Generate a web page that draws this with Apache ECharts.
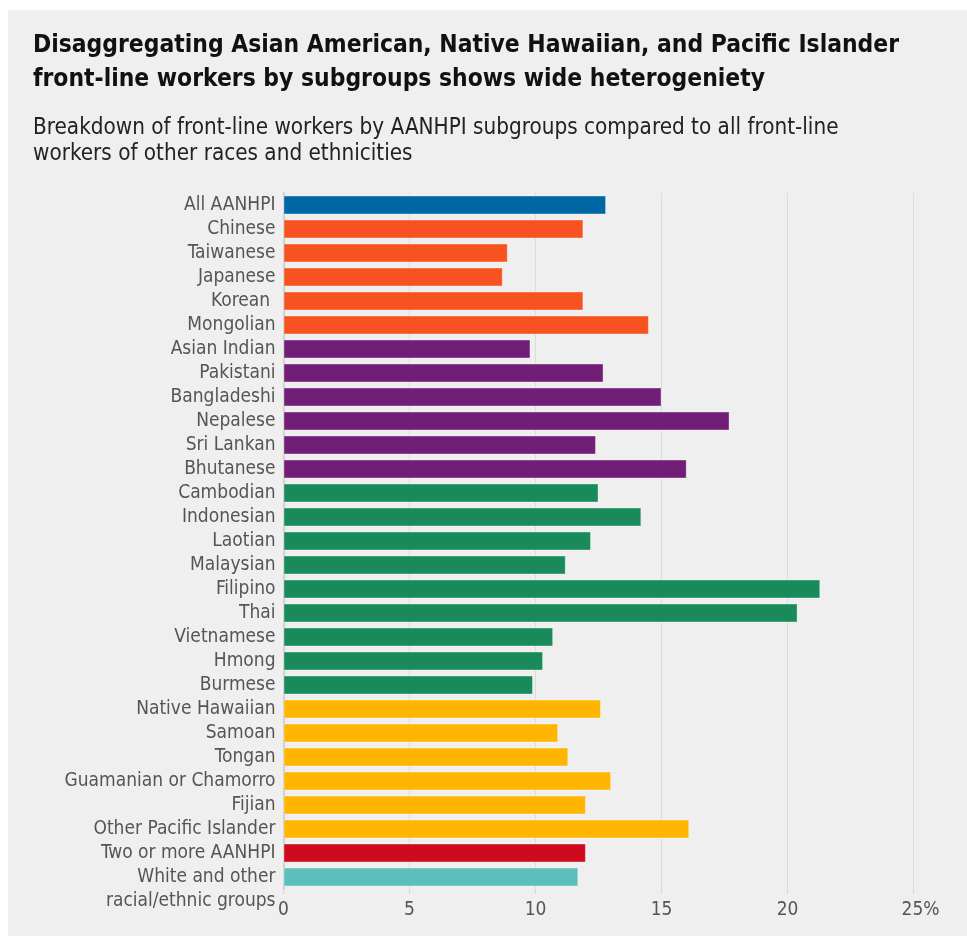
<!DOCTYPE html>
<html>
<head>
<meta charset="utf-8">
<script src="https://cdn.jsdelivr.net/npm/echarts@6/dist/echarts.min.js"></script>
<style>
  html, body { margin: 0; padding: 0; background: #ffffff; }
  #chart { width: 967px; height: 939px; }
</style>
</head>
<body>
<div id="chart"></div>
<script>
// Subgroups, top to bottom
const categories = [
  'All AANHPI', 'Chinese', 'Taiwanese', 'Japanese', 'Korean ', 'Mongolian',
  'Asian Indian', 'Pakistani', 'Bangladeshi', 'Nepalese', 'Sri Lankan', 'Bhutanese',
  'Cambodian', 'Indonesian', 'Laotian', 'Malaysian', 'Filipino', 'Thai',
  'Vietnamese', 'Hmong', 'Burmese',
  'Native Hawaiian', 'Samoan', 'Tongan', 'Guamanian or Chamorro', 'Fijian',
  'Other Pacific Islander', 'Two or more AANHPI', 'White and other\nracial/ethnic groups'
];

// Share of workers in front-line jobs (%)
const values = [
  12.8, 11.9, 8.9, 8.7, 11.9, 14.5,
  9.8, 12.7, 15.0, 17.7, 12.4, 16.0,
  12.5, 14.2, 12.2, 11.2, 21.3, 20.4,
  10.7, 10.3, 9.9,
  12.6, 10.9, 11.3, 13.0, 12.0,
  16.1, 12.0, 11.7
];

// Colour group per subgroup
const groups = [
  'all', 'east', 'east', 'east', 'east', 'east',
  'south', 'south', 'south', 'south', 'south', 'south',
  'southeast', 'southeast', 'southeast', 'southeast', 'southeast', 'southeast',
  'southeast', 'southeast', 'southeast',
  'pacific', 'pacific', 'pacific', 'pacific', 'pacific',
  'pacific', 'multi', 'other'
];

const groupColors = {
  all: '#0067a5',
  east: '#f75320',
  south: '#701e76',
  southeast: '#198a5a',
  pacific: '#ffb502',
  multi: '#ce0a1e',
  other: '#5cbfbc'
};

const xTicks = [0, 5, 10, 15, 20, 25];

const FONT = '"Liberation Sans Narrow", "DejaVu Sans Condensed", sans-serif';

const chart = echarts.init(document.getElementById('chart'), null, { renderer: 'canvas' });

chart.setOption({
  backgroundColor: '#ffffff',
  animation: false,
  graphic: [
    {
      type: 'rect',
      z: -10,
      shape: { x: 8, y: 10, width: 959, height: 926 },
      style: { fill: '#efefef' }
    },
    {
      type: 'text',
      left: 33,
      top: 29,
      style: {
        text: 'Disaggregating Asian American, Native Hawaiian, and Pacific Islander\nfront-line workers by subgroups shows wide heterogeniety',
        font: 'bold 24.4px ' + FONT,
        fill: '#111111',
        lineHeight: 34
      }
    },
    {
      type: 'text',
      left: 33,
      top: 115,
      style: {
        text: 'Breakdown of front-line workers by AANHPI subgroups compared to all front-line\nworkers of other races and ethnicities',
        font: '22.3px ' + FONT,
        fill: '#222222',
        lineHeight: 26
      }
    }
  ],
  grid: {
    left: 283.5,
    right: 53.5,
    top: 193,
    bottom: 50,
    containLabel: false
  },
  xAxis: {
    type: 'value',
    min: xTicks[0],
    max: xTicks[xTicks.length - 1],
    interval: 5,
    axisLine: { show: false },
    axisTick: { show: true, length: 5, inside: false, lineStyle: { color: '#d8d8d8' } },
    splitLine: { show: true, lineStyle: { color: '#dcdcdc', width: 1 } },
    axisLabel: {
      color: '#555555',
      fontFamily: FONT,
      fontSize: 19,
      margin: 12,
      formatter: function (v) {
        return v === xTicks[xTicks.length - 1] ? '{p|' + v + '%}' : String(v);
      },
      rich: {
        p: { padding: [0, 0, 0, 14], fontFamily: FONT, fontSize: 19, color: '#555555' }
      }
    }
  },
  yAxis: {
    type: 'category',
    data: categories,
    inverse: true,
    axisLine: { show: true, lineStyle: { color: '#d0d0d0', width: 2 } },
    axisTick: { show: false },
    splitLine: { show: false },
    axisLabel: {
      interval: 0,
      showMinLabel: true,
      showMaxLabel: true,
      hideOverlap: false,
      color: '#555555',
      fontFamily: FONT,
      fontSize: 19,
      margin: 8,
      lineHeight: 24,
      formatter: function (v) {
        // two-line label: keep its first line level with the bar
        return v.indexOf('\n') >= 0 ? '\n' + v : v;
      }
    }
  },
  series: [
    {
      type: 'bar',
      barCategoryGap: '21%',
      data: values.map(function (v, i) {
        return {
          value: v,
          itemStyle: {
            color: groupColors[groups[i]],
            borderColor: 'rgba(255,255,255,0.35)',
            borderWidth: 1
          }
        };
      })
    }
  ]
});
</script>
</body>
</html>
